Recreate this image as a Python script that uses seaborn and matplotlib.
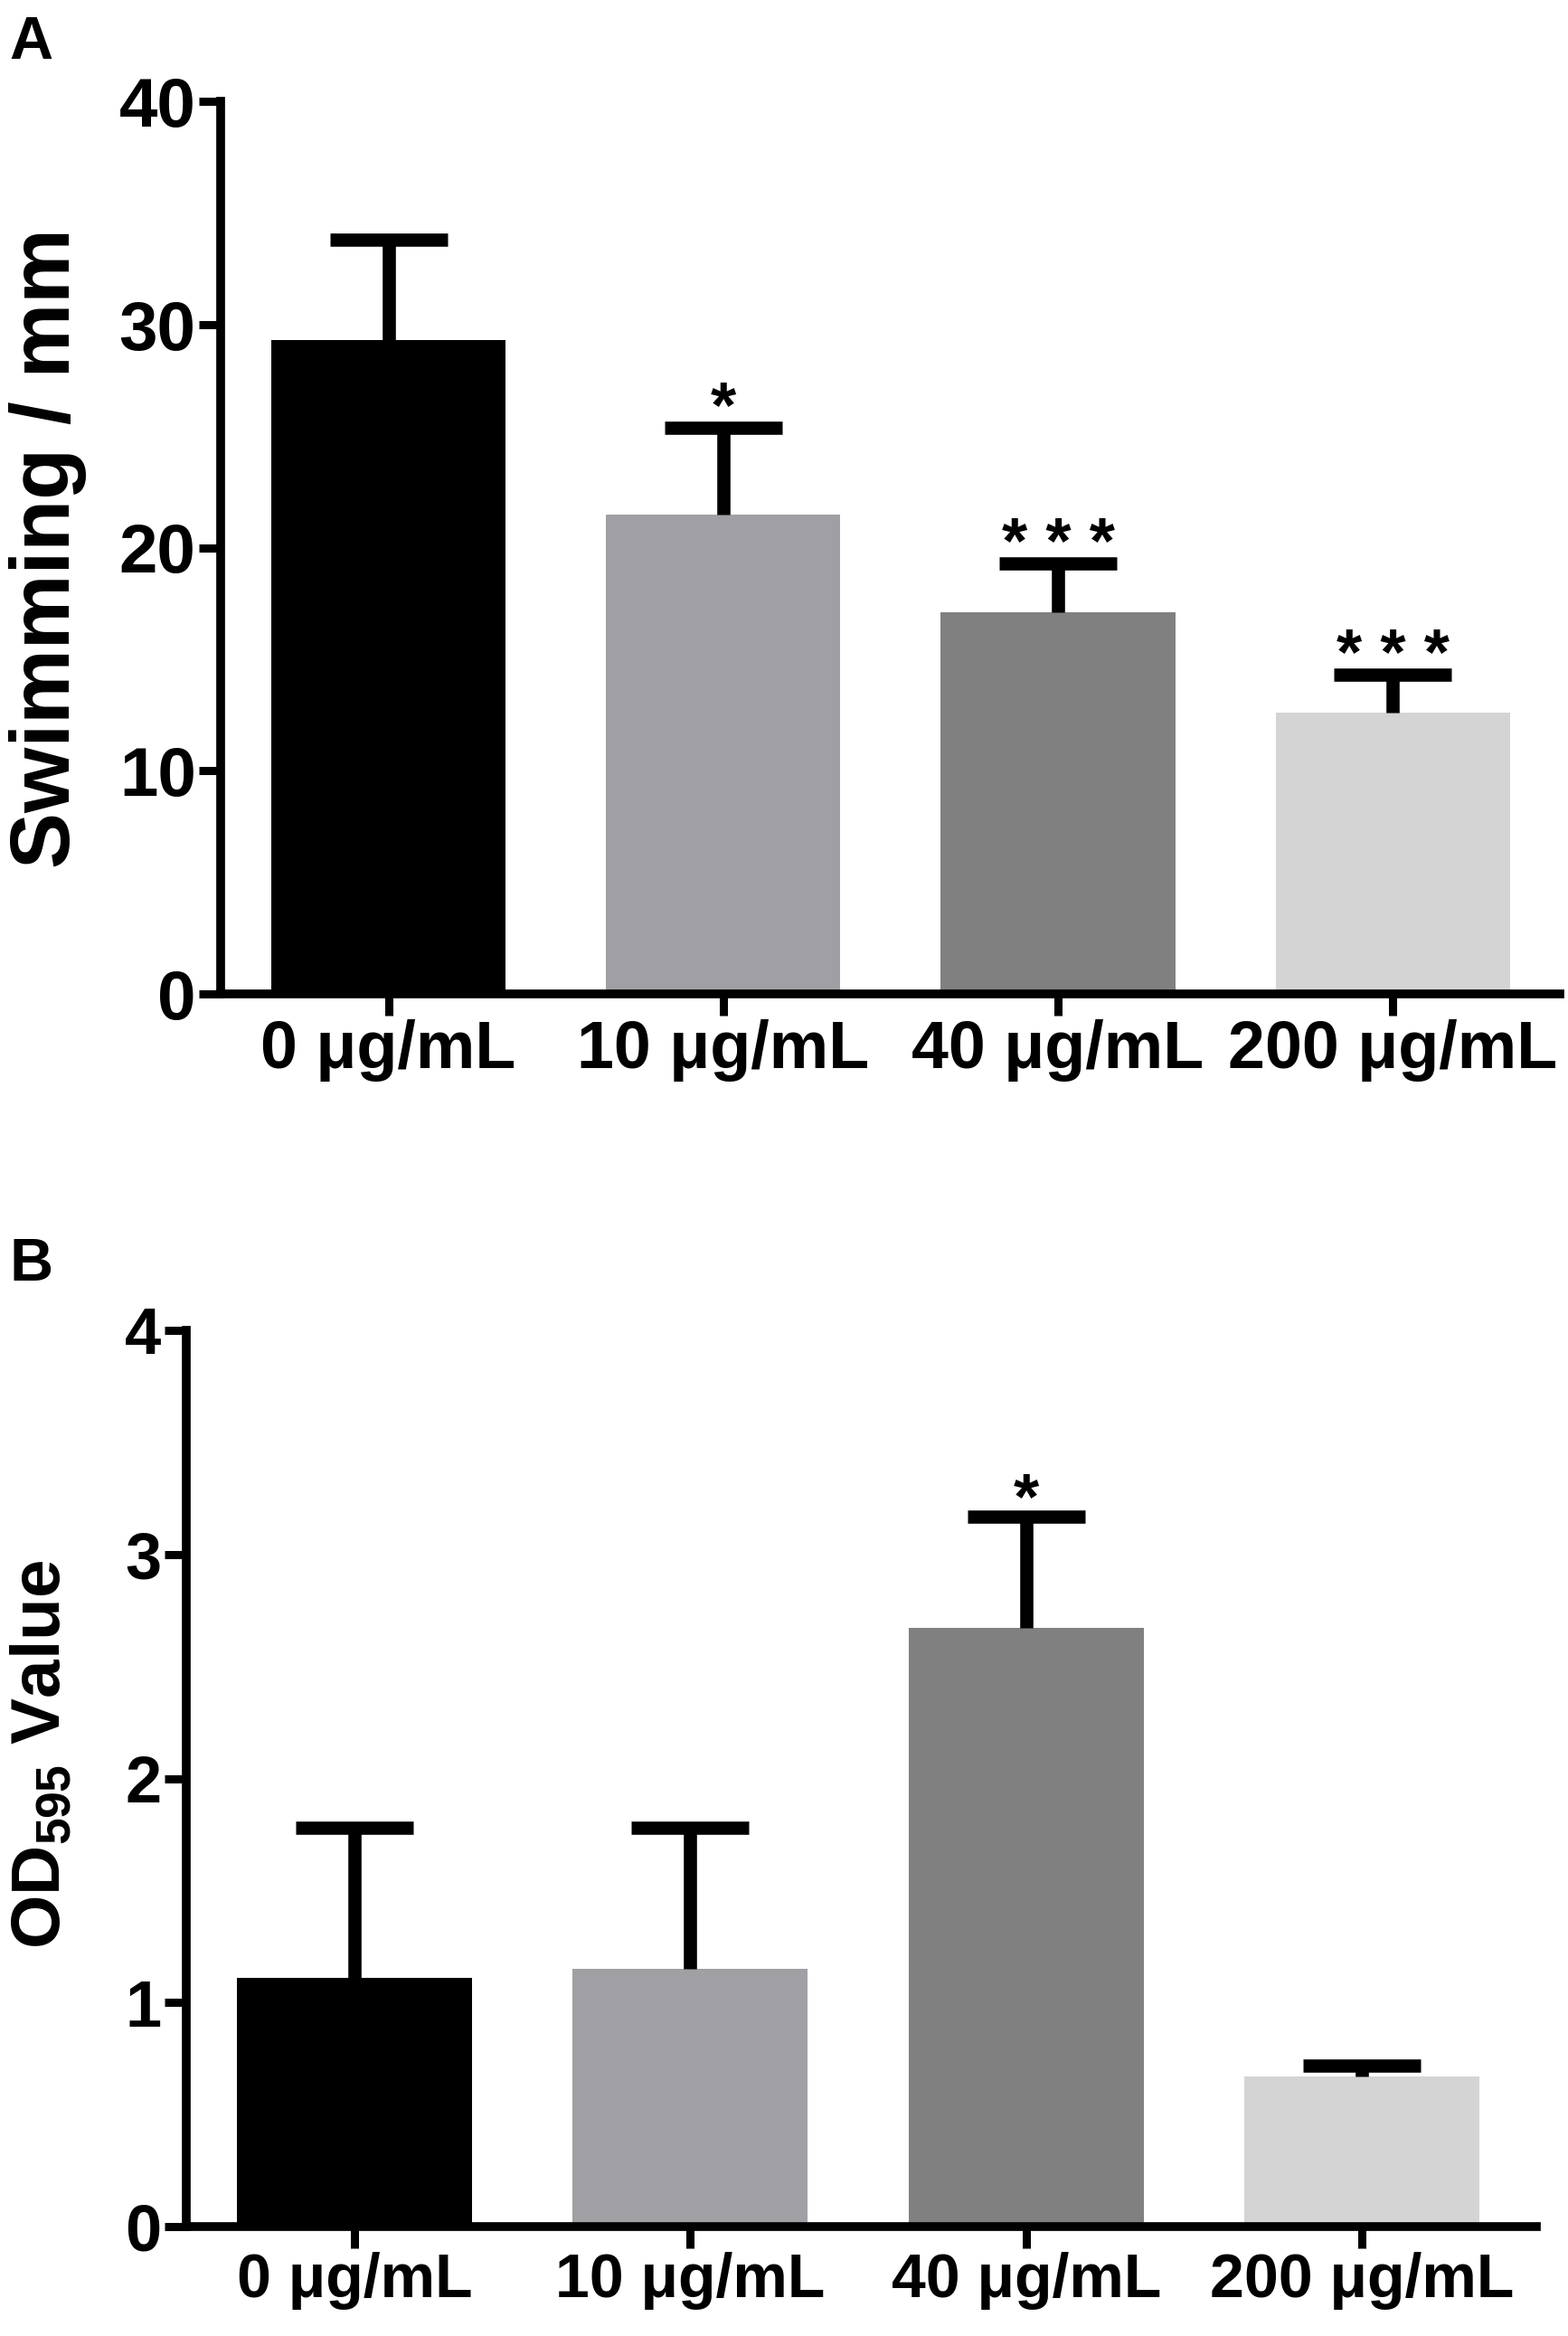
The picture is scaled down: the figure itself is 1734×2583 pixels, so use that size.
import matplotlib
matplotlib.use("Agg")
import matplotlib.pyplot as plt
import seaborn as sns
import numpy as np
import pandas as pd

# ---- data ----
categories = ["0 μg/mL", "10 μg/mL", "40 μg/mL", "200 μg/mL"]
swim_mean = [29.3, 21.5, 17.1, 12.6]
swim_err = [4.5, 3.9, 2.2, 1.7]
swim_sig = ["", "*", "* * *", "* * *"]
od_mean = [1.11, 1.15, 2.67, 0.67]
od_err = [0.67, 0.63, 0.50, 0.05]
od_sig = ["", "", "*", ""]
bar_colors = ["#000000", "#a0a0a4", "#808080", "#d4d4d4"]

sns.set_theme(style="ticks")
plt.rcParams['font.family'] = ['Liberation Sans', 'DejaVu Sans']
plt.rcParams['font.weight'] = 'bold'
plt.rcParams['text.color'] = 'black'
plt.rcParams['axes.labelcolor'] = 'black'
plt.rcParams['xtick.color'] = 'black'
plt.rcParams['ytick.color'] = 'black'
plt.rcParams['xtick.labelcolor'] = 'black'
plt.rcParams['ytick.labelcolor'] = 'black'
plt.rcParams['mathtext.fontset'] = 'custom'
plt.rcParams['mathtext.bf'] = 'Liberation Sans:bold'
plt.rcParams['mathtext.rm'] = 'Liberation Sans:bold'
plt.rcParams['mathtext.default'] = 'bf'

fig = plt.figure(figsize=(17.34, 25.83), dpi=100)
axA = fig.add_axes([0.141, 0.5745, 0.854, 0.382])
axB = fig.add_axes([0.119, 0.0467, 0.861, 0.3839])


def draw(ax, means, errs, sigs, ylim, yticks, ylabel, xlim, ytick_fs, xtick_fs,
         ylab_fs, ylab_x, ylab_y, star_fs, star_off):
    df = pd.DataFrame({"cat": categories, "val": means})
    sns.barplot(data=df, x="cat", y="val", hue="cat", palette=bar_colors,
                legend=False, width=0.70, ax=ax, saturation=1, linewidth=0)
    x = np.arange(len(categories))
    _, caps, _ = ax.errorbar(x, means, yerr=[np.zeros(len(errs)), errs], fmt='none',
                             ecolor='black', elinewidth=10.5, capsize=47,
                             capthick=10.5, zorder=5)
    # keep only the upper caps
    for c in caps:
        if np.allclose(c.get_ydata(), means):
            c.set_visible(False)
    for xi, m, e, s in zip(x, means, errs, sigs):
        if s:
            ax.annotate(s, (xi, m + e), xytext=(0, star_off), textcoords='offset points',
                        ha='center', va='baseline', fontsize=star_fs, fontweight='bold',
                        color='black')
    ax.set_ylim(*ylim)
    ax.set_xlim(*xlim)
    ax.set_yticks(yticks)
    ax.set_yticklabels([str(t) for t in yticks], fontsize=ytick_fs, fontweight='bold',
                       color='black')
    ax.set_xticks(x)
    ax.set_xticklabels(categories, fontsize=xtick_fs, fontweight='bold', color='black')
    ax.set_xlabel("")
    ax.set_ylabel(ylabel, fontsize=ylab_fs, fontweight='bold', color='black')
    ax.yaxis.set_label_coords(ylab_x, ylab_y)
    for sp in ['top', 'right']:
        ax.spines[sp].set_visible(False)
    for sp in ['left', 'bottom']:
        ax.spines[sp].set_linewidth(7)
        ax.spines[sp].set_color('black')
        ax.spines[sp].set_capstyle('projecting')
    ax.tick_params(axis='both', direction='out', length=17, width=6.5, color='black', pad=3)
    ax.set_facecolor('white')


draw(axA, swim_mean, swim_err, swim_sig, (0, 40), [0, 10, 20, 30, 40], "Swimming / mm",
     (-0.5, 3.5), 55, 53, 67, -0.100, 0.5, 52, 0)
draw(axB, od_mean, od_err, od_sig, (0, 4), [0, 1, 2, 3, 4], r"OD$_{595}$ Value",
     (-0.5, 3.52), 52, 49, 55, -0.083, 0.527, 52, -2)

fig.text(0.006, 0.9935, "A", fontsize=48, fontweight='bold', ha='left', va='top')
fig.text(0.006, 0.4705, "B", fontsize=48, fontweight='bold', ha='left', va='top')

fig.savefig("out.png", dpi=100, facecolor='white')
